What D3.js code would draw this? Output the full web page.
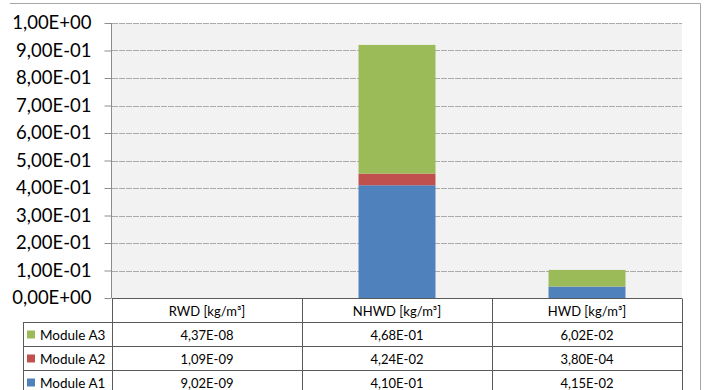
<!DOCTYPE html>
<html>
<head>
<meta charset="utf-8">
<script src="https://cdn.jsdelivr.net/npm/d3@7/dist/d3.min.js"></script>
<style>
  html, body { margin: 0; padding: 0; background: #ffffff; }
  svg { display: block; }
  text { font-family: Lato, "Liberation Sans", sans-serif; fill: #000; }
</style>
</head>
<body>
<svg id="chart" width="704" height="390"></svg>
<script>
// Waste categories (columns of the data table)
const categories = ["RWD [kg/m³]", "NHWD [kg/m³]", "HWD [kg/m³]"];

// Stacked series, bottom to top
const moduleA1 = [9.02e-9, 4.10e-1, 4.15e-2];
const moduleA2 = [1.09e-9, 4.24e-2, 3.80e-4];
const moduleA3 = [4.37e-8, 4.68e-1, 6.02e-2];

const seriesNames = ["Module A1", "Module A2", "Module A3"];
const seriesColors = ["#4F81BD", "#C0504D", "#9BBB59"];

// Value axis ticks
const yTicks = [0, 0.1, 0.2, 0.3, 0.4, 0.5, 0.6, 0.7, 0.8, 0.9, 1.0];

const seriesValues = [moduleA1, moduleA2, moduleA3];

// Scientific notation with a decimal comma and two-digit exponent, e.g. 4,37E-08
function sci(v) {
  const [m, e] = v.toExponential(2).split("e");
  const n = parseInt(e, 10);
  const exp = (n < 0 ? "-" : "+") + String(Math.abs(n)).padStart(2, "0");
  return m.replace(".", ",") + "E" + exp;
}

const svg = d3.select("#chart");

const plot = { left: 112, right: 682, top: 23, bottom: 298 };

const x = d3.scaleBand()
  .domain(categories)
  .range([plot.left, plot.right])
  .paddingInner(0.595)
  .paddingOuter(0.2975);

const col = d3.scaleBand()
  .domain(categories)
  .range([plot.left, plot.right])
  .padding(0);

const y = d3.scaleLinear()
  .domain([0, 1])
  .range([plot.bottom, plot.top]);

// Outer chart frame
svg.append("line")
  .attr("x1", 10).attr("x2", 700.5).attr("y1", 3.5).attr("y2", 3.5)
  .attr("stroke", "#a6a6a6").attr("stroke-width", 1);
svg.append("line")
  .attr("x1", 700.5).attr("x2", 700.5).attr("y1", 3.5).attr("y2", 390)
  .attr("stroke", "#a6a6a6").attr("stroke-width", 1);

// Plot area background
svg.append("rect")
  .attr("x", plot.left).attr("y", plot.top)
  .attr("width", plot.right - plot.left)
  .attr("height", plot.bottom - plot.top)
  .attr("fill", "#f2f2f2");

// Gridlines
svg.append("g")
  .selectAll("line")
  .data(yTicks.filter(d => d > 0))
  .join("line")
  .attr("x1", plot.left).attr("x2", plot.right)
  .attr("y1", d => Math.round(y(d)) + 0.5)
  .attr("y2", d => Math.round(y(d)) + 0.5)
  .attr("stroke", "#ababab")
  .attr("stroke-width", 1)
  .attr("stroke-dasharray", "6,1");

// Value axis with tick labels
const yAxis = d3.axisLeft(y)
  .tickValues(yTicks)
  .tickFormat(sci)
  .tickSize(7)
  .tickPadding(13);

const yg = svg.append("g")
  .attr("transform", `translate(${plot.left - 0.5},0)`)
  .call(yAxis);
yg.select(".domain").attr("stroke", "#8c8c8c").attr("d", `M0,${plot.top}V${plot.bottom}`);
yg.selectAll(".tick line").attr("stroke", "#8c8c8c");
yg.selectAll(".tick text")
  .attr("font-family", "Lato, 'Liberation Sans', sans-serif")
  .attr("font-size", "18.5px")
  .attr("fill", "#000");

// Stacked bars
const rows = categories.map((c, i) => {
  const r = { category: c };
  seriesNames.forEach((s, k) => { r[s] = seriesValues[k][i]; });
  return r;
});
const stacked = d3.stack().keys(seriesNames)(rows);

svg.append("g")
  .selectAll("g")
  .data(stacked)
  .join("g")
  .attr("fill", (d, k) => seriesColors[k])
  .selectAll("rect")
  .data(d => d)
  .join("rect")
  .attr("x", d => x(d.data.category))
  .attr("width", x.bandwidth())
  .attr("y", d => y(d[1]))
  .attr("height", d => y(d[0]) - y(d[1]));

// Data table below the plot
const tableTop = plot.bottom + 1;
const headerH = 24;
const rowH = 24;
const legendLeft = 23;
const lineColor = "#5a5a5a";
const table = svg.append("g");

// Table rows are listed top-down: A3, A2, A1
const tableOrder = [2, 1, 0];

// Header cells
table.selectAll("text.head")
  .data(categories)
  .join("text")
  .attr("class", "head")
  .attr("x", d => col(d) + col.bandwidth() / 2)
  .attr("y", tableTop + headerH / 2 + 4.5)
  .attr("text-anchor", "middle")
  .attr("font-size", "13px")
  .text(d => d);

tableOrder.forEach((k, r) => {
  const rowTop = tableTop + headerH + r * rowH;
  const mid = rowTop + rowH / 2;
  table.append("rect")
    .attr("x", legendLeft + 4).attr("y", mid - 4.5)
    .attr("width", 8).attr("height", 8)
    .attr("fill", seriesColors[k]);
  table.append("text")
    .attr("x", legendLeft + 17).attr("y", mid + 4.5)
    .attr("font-size", "13.5px")
    .text(seriesNames[k]);
  table.selectAll(null)
    .data(categories)
    .join("text")
    .attr("x", d => col(d) + col.bandwidth() / 2)
    .attr("y", mid + 4.5)
    .attr("text-anchor", "middle")
    .attr("font-size", "13px")
    .text((d, i) => sci(seriesValues[k][i]));
});

// Table grid lines
const gridG = table.append("g").attr("stroke", lineColor).attr("stroke-width", 1);
const bottom = tableTop + headerH + 3 * rowH;
// horizontal lines
gridG.append("line").attr("x1", plot.left).attr("x2", plot.right)
  .attr("y1", tableTop - 0.5).attr("y2", tableTop - 0.5);
for (let r = 0; r <= 3; r++) {
  const yy = tableTop + headerH + r * rowH - 0.5;
  gridG.append("line").attr("x1", legendLeft).attr("x2", plot.right)
    .attr("y1", yy).attr("y2", yy);
}
// vertical lines
gridG.append("line").attr("x1", legendLeft + 0.5).attr("x2", legendLeft + 0.5)
  .attr("y1", tableTop + headerH - 0.5).attr("y2", bottom);
categories.forEach(c => {
  const xx = Math.round(col(c)) + 0.5;
  gridG.append("line").attr("x1", xx).attr("x2", xx)
    .attr("y1", tableTop - 0.5).attr("y2", bottom);
});
gridG.append("line").attr("x1", plot.right + 0.5).attr("x2", plot.right + 0.5)
  .attr("y1", tableTop - 0.5).attr("y2", bottom);
</script>
</body>
</html>
